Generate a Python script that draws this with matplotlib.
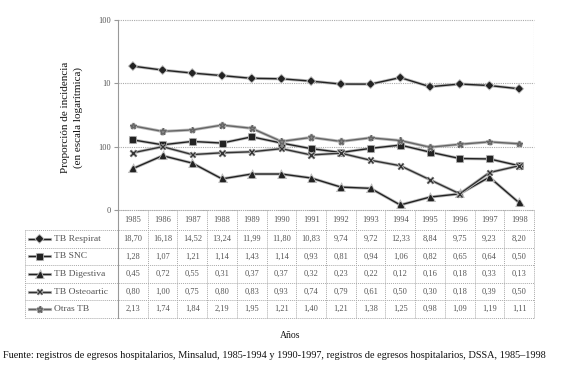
import matplotlib
matplotlib.use("Agg")
import matplotlib.pyplot as plt
import matplotlib.transforms as mtransforms
import matplotlib.patheffects as pe

years = [1985, 1986, 1987, 1988, 1989, 1990, 1991, 1992, 1993, 1994, 1995, 1996, 1997, 1998]
series_names = ["TB Respirat", "TB SNC", "TB Digestiva", "TB Osteoartic", "Otras TB"]
respirat = [18.70, 16.18, 14.52, 13.24, 11.99, 11.80, 10.83, 9.74, 9.72, 12.33, 8.84, 9.75, 9.23, 8.20]
snc = [1.28, 1.07, 1.21, 1.14, 1.43, 1.14, 0.93, 0.81, 0.94, 1.06, 0.82, 0.65, 0.64, 0.50]
digestiva = [0.45, 0.72, 0.55, 0.31, 0.37, 0.37, 0.32, 0.23, 0.22, 0.12, 0.16, 0.18, 0.33, 0.13]
osteo = [0.80, 1.00, 0.75, 0.80, 0.83, 0.93, 0.74, 0.79, 0.61, 0.50, 0.30, 0.18, 0.39, 0.50]
otras = [2.13, 1.74, 1.84, 2.19, 1.95, 1.21, 1.40, 1.21, 1.38, 1.25, 0.98, 1.09, 1.19, 1.11]
ytick_vals = [0.1, 1, 10, 100]
ytick_labels = ["0", "100", "10", "100"]

plt.rcParams['font.family'] = ['Liberation Serif', 'DejaVu Serif']

W, H = 562, 382
fig = plt.figure(figsize=(W / 100, H / 100), dpi=100)

ov = fig.add_axes([0, 0, 1, 1])
ov.set_xlim(0, W)
ov.set_ylim(H, 0)
ov.axis('off')

x0, x1, ytop, ybot = 118, 534, 20, 210
ax = fig.add_axes([x0 / W, 1 - ybot / H, (x1 - x0) / W, (ybot - ytop) / H])
ax.set_yscale('log')
ax.set_ylim(0.1, 100)
ax.set_xlim(-0.5, len(years) - 0.5)
ax.set_facecolor('none')

for s in ['top', 'right', 'bottom']:
    ax.spines[s].set_visible(False)
ax.spines['left'].set_color('#999999')
ax.spines['left'].set_linewidth(0.8)

ax.set_xticks([])
ax.set_yticks(ytick_vals)
ax.set_yticklabels(ytick_labels, fontsize=6, color='#555555')
ax.yaxis.set_minor_locator(matplotlib.ticker.NullLocator())
ax.tick_params(axis='y', length=3, color='#999999', pad=2)
for v in ytick_vals:
    ax.axhline(v, color='#aaaaaa', lw=0.8, ls=(0, (1, 1)), zorder=0, clip_on=False)
ax.axvline(len(years) - 0.5, color='#aaaaaa', lw=0.8, ls=(0, (1, 1)), zorder=0)

styles = [
    dict(marker='D', ms=3, color='#222222', mfc='#222222'),
    dict(marker='s', ms=3.6, color='#222222', mfc='#222222'),
    dict(marker='^', ms=3.6, color='#222222', mfc='#222222'),
    dict(marker='x', ms=4, color='#333333', mew=1.0),
    dict(marker='*', ms=4.5, color='#666666', mfc='#888888'),
]
data = [respirat, snc, digestiva, osteo, otras]
xs = list(range(len(years)))
halo = [pe.Stroke(linewidth=2.2, foreground='#bbbbbb'), pe.Normal()]
for vals, st in zip(data, styles):
    ax.plot(xs, vals, lw=1.0, path_effects=halo, clip_on=False, **st)

ov.text(72, 117, "Proporción de incidencia\n(en escala logarítmica)", rotation=90,
        ha='center', va='center', fontsize=8, linespacing=1.4, color='#111111')

tr = mtransforms.blended_transform_factory(ax.transData, ov.transData)
grid_kw = dict(color='#aaaaaa', lw=0.7, ls=(0, (1, 1)))
row_edges = [230, 247.6, 265.2, 282.8, 300.4, 318]
label_left = 25
for y in row_edges:
    ov.plot([label_left, x1], [y, y], **grid_kw)
ov.plot([x0, x1], [ybot, ybot], **grid_kw)
for i in range(len(years) + 1):
    ov.plot([i - 0.5, i - 0.5], [ybot, row_edges[-1]], transform=tr, **grid_kw)
ov.plot([label_left, label_left], [row_edges[0], row_edges[-1]], **grid_kw)
ov.plot([x0, x0], [ybot, row_edges[-1]], color='#999999', lw=0.8)

for i, yr in enumerate(years):
    ov.text(i, (ybot + row_edges[0]) / 2, str(yr), transform=tr, ha='center', va='center',
            fontsize=6, color='#555555')

for r, (name, vals, st) in enumerate(zip(series_names, data, styles)):
    yc = (row_edges[r] + row_edges[r + 1]) / 2
    ov.plot([29, 39.5, 50], [yc, yc, yc], lw=1.0, path_effects=halo, markevery=[1], **st)
    ov.text(54, yc, name, ha='left', va='center', fontsize=6.8, color='#555555')
    for i, v in enumerate(vals):
        ov.text(i, yc, f"{v:.2f}".replace('.', ','), transform=tr, ha='center', va='center',
                fontsize=6, color='#555555')

ov.text(290, 336, "Años", ha='center', va='center', fontsize=7, color='#111111')
ov.text(3, 356, "Fuente: registros de egresos hospitalarios, Minsalud, 1985-1994 y 1990-1997, "
        "registros de egresos hospitalarios, DSSA, 1985–1998",
        ha='left', va='center', fontsize=7.4, color='#111111')

fig.savefig("out.png", dpi=100)
